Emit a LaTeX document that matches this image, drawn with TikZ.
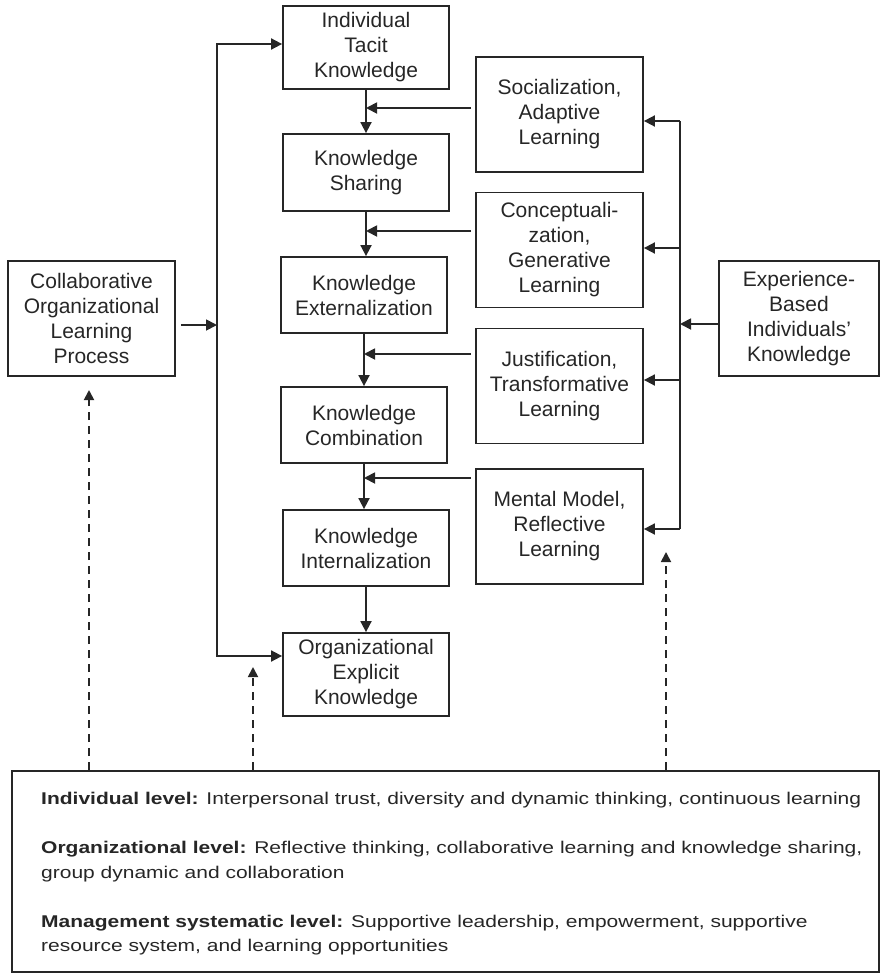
\documentclass[tikz,border=0pt]{standalone}
\usepackage{fontspec}
\setmainfont{Liberation Sans}
\newfontfamily\levelfont[FakeStretch=1.235]{Liberation Sans}
\usetikzlibrary{arrows.meta}
\colorlet{ink}{black!85}
\tikzset{
  box/.style={draw=ink, line width=1.8pt, inner sep=0pt, align=center, text=ink,
    font=\fontsize{21pt}{25pt}\selectfont},
  stagebox/.style={box, minimum width=166pt, minimum height=77pt},
  modebox/.style={box, minimum width=167pt, minimum height=115pt},
  arr/.style={draw=ink, line width=1.8pt, -{Triangle[length=11pt,width=11pt]}},
  busline/.style={draw=ink, line width=1.8pt},
  dasharr/.style={draw=ink, line width=1.8pt, dash pattern=on 8pt off 6pt,
    -{Triangle[length=10pt,width=10pt]}},
}

\begin{document}
\begin{tikzpicture}[x=1pt, y=-1pt]
\useasboundingbox (0,0) rectangle (882,974);
% knowledge stages
\node[stagebox, minimum height=83pt] (tacit) at (366,47.5) {Individual\\Tacit\\Knowledge};
\node[stagebox] (sharing) at (366,172.5) {Knowledge\\Sharing};
\node[stagebox, minimum height=76pt] (extern) at (364,295) {Knowledge\\Externalization};
\node[stagebox, minimum height=76pt] (combin) at (364,425) {Knowledge\\Combination};
\node[stagebox, minimum height=76pt] (intern) at (366,548) {Knowledge\\Internalization};
\node[stagebox, minimum height=83pt] (explicit) at (366,674.5) {Organizational\\Explicit\\Knowledge};
% learning modes
\node[modebox] (social) at (559.5,114.5) {Socialization,\\Adaptive\\Learning};
\node[modebox] (concept) at (559.5,250) {Conceptuali-\\zation,\\Generative\\Learning};
\node[modebox] (justif) at (559.5,386) {Justification,\\Transformative\\Learning};
\node[modebox] (mental) at (559.5,526.5) {Mental Model,\\Reflective\\Learning};
% process and source
\node[modebox] (collab) at (91.5,318.5) {Collaborative\\Organizational\\Learning\\Process};
\node[modebox, minimum width=160pt] (exper) at (799,318.5) {Experience-\\Based\\Individuals'\\Knowledge};
% levels
\node[draw=ink, line width=1.8pt, inner sep=0pt, minimum width=867pt, minimum height=201pt] (levels) at (445.5,871.5) {};
\node[anchor=north west, align=left, inner sep=0pt, text=ink,
  font=\levelfont\fontsize{17pt}{24.5pt}\selectfont] (leveltext) at (41,792)
  {\textbf{Individual level:} Interpersonal trust, diversity and dynamic thinking, continuous learning\\[24.5pt]
   \textbf{Organizational level:} Reflective thinking, collaborative learning and knowledge sharing,\\
   group dynamic and collaboration\\[24.5pt]
   \textbf{Management systematic level:} Supportive leadership, empowerment, supportive\\
   resource system, and learning opportunities};

\foreach \a/\b in {tacit/sharing, sharing/extern, extern/combin, combin/intern, intern/explicit}
  \draw[arr] (\a.south) -- (\a.south |- \b.north);
\foreach \m/\s/\y in {social/tacit/108, concept/sharing/231, justif/extern/354, mental/combin/478}
  \draw[arr] ([xshift=-4pt]\m.west |- 0,\y) -- (\s.south |- 0,\y);

% right bus
\coordinate (rbus) at (680,0);
\draw[busline] (rbus |- 0,121) -- (rbus |- 0,529);
\foreach \m/\y in {social/121, concept/248, justif/380, mental/529}
  \draw[arr] (rbus |- 0,\y) -- (\m.east |- 0,\y);
\draw[arr] (exper.west |- 0,324) -- (rbus |- 0,324);

% left bus
\coordinate (lbus) at (217,0);
\draw[arr, {Triangle[length=11pt,width=11pt]}-{Triangle[length=11pt,width=11pt]}]
  (tacit.west |- 0,44) -- (lbus |- 0,44) -- (lbus |- 0,656) -- (explicit.west |- 0,656);
\draw[arr] ([xshift=5pt]collab.east |- 0,325) -- (lbus |- 0,325);

% dashed influences
\coordinate (d2) at (253,667);
\coordinate (d3) at (666,552);
\draw[dasharr] (levels.north -| 89,0) -- (89,390);
\draw[dasharr] (levels.north -| d2) -- (d2);
\draw[dasharr] (levels.north -| d3) -- (d3);
\end{tikzpicture}
\end{document}
